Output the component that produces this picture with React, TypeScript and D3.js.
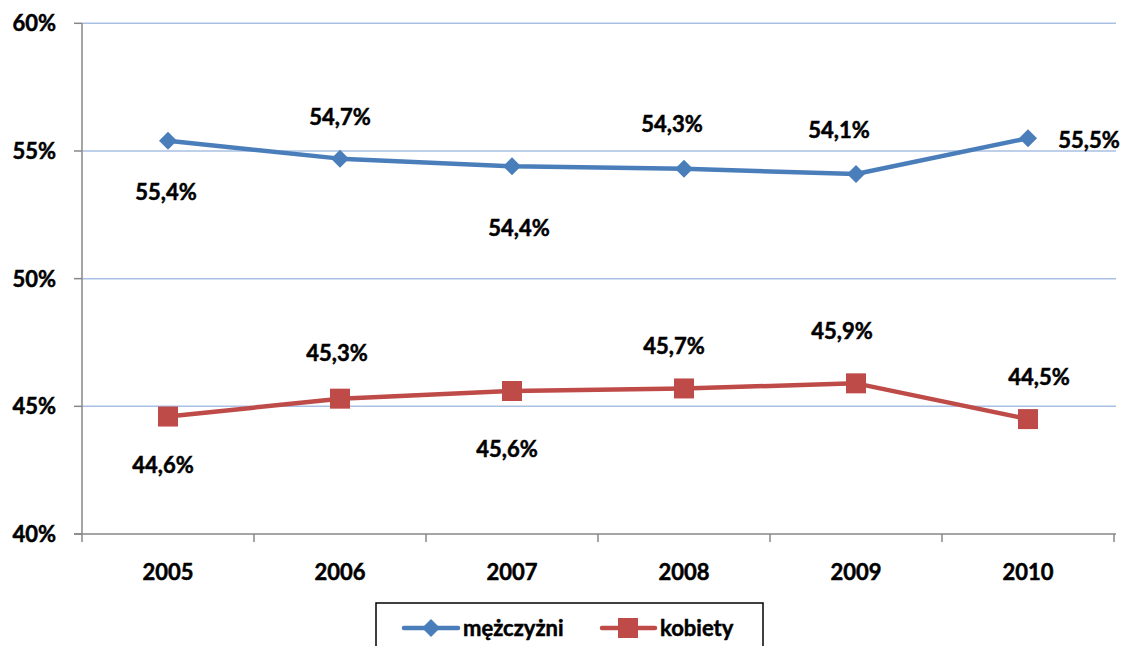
import React from "react";
import * as d3 from "d3";

const years = ["2005", "2006", "2007", "2008", "2009", "2010"];
const men = [55.4, 54.7, 54.4, 54.3, 54.1, 55.5];
const women = [44.6, 45.3, 45.6, 45.7, 45.9, 44.5];
const yTicks = [40, 45, 50, 55, 60];
const seriesNames = ["mężczyżni", "kobiety"];
// label offsets (layout only)
const menLabelOff = [[-2, 51], [0, -42], [7, 62], [-12, -45], [-17, -44], [61, 2]];
const womenLabelOff = [[-5, 49], [-3, -46], [-5, 58], [-10, -42], [-14, -52], [11, -42]];

const W = 1124, H = 646;
const left = 82, right = 1114, top = 23.3, bottom = 534;
const blue = "#4A7EBB", red = "#BE4B48";
const font = "Lato, 'Open Sans', sans-serif";
const textStyle = { fontFamily: font, fontWeight: 700, fontSize: 22, stroke: "#000", strokeWidth: 0.5 } as const;

export default function App() {
  const x = d3.scaleBand<string>().domain(years).range([left, right]);
  const y = d3.scaleLinear().domain([40, 60]).range([bottom, top]);
  const cx = (i: number) => (x(years[i]) as number) + x.bandwidth() / 2;
  const line = d3.line<number>().x((_, i) => cx(i)).y((d) => y(d));
  const fmt = (v: number) => v.toFixed(1).replace(".", ",") + "%";
  const ticksX = years.map((yr) => x(yr) as number).concat([right]);
  const diamond = (px: number, py: number, r: number) =>
    `M${px},${py - r}L${px + r},${py}L${px},${py + r}L${px - r},${py}Z`;

  return (
    <svg width={W} height={H} style={{ position: "absolute", left: 0, top: 0 }}>
      <rect width={W} height={H} fill="#fff" />
      {yTicks.filter((t) => t > 40).map((t) => (
        <line key={t} x1={left} x2={1116} y1={y(t)} y2={y(t)} stroke="#A9BFE3" strokeWidth={1.5} />
      ))}
      <line x1={left} x2={left} y1={top} y2={bottom} stroke="#878787" strokeWidth={1.5} />
      <line x1={left - 8} x2={1116} y1={bottom} y2={bottom} stroke="#878787" strokeWidth={1.5} />
      {yTicks.map((t) => (
        <g key={t}>
          <line x1={left - 8} x2={left} y1={y(t)} y2={y(t)} stroke="#878787" strokeWidth={1.5} />
          <text x={56} y={y(t)} dy="0.36em" textAnchor="end" style={textStyle}>
            {t}%
          </text>
        </g>
      ))}
      {ticksX.map((tx, i) => (
        <line key={i} x1={tx} x2={tx} y1={bottom} y2={bottom + 8} stroke="#878787" strokeWidth={1.5} />
      ))}
      {years.map((yr, i) => (
        <text key={yr} x={cx(i)} y={572} dy="0.36em" textAnchor="middle" style={textStyle}>
          {yr}
        </text>
      ))}
      <path d={line(men) || ""} fill="none" stroke={blue} strokeWidth={4.5} strokeLinejoin="round" />
      <path d={line(women) || ""} fill="none" stroke={red} strokeWidth={4.5} strokeLinejoin="round" />
      {men.map((v, i) => (
        <path key={i} d={diamond(cx(i), y(v), 9)} fill={blue} />
      ))}
      {women.map((v, i) => (
        <rect key={i} x={cx(i) - 10} y={y(v) - 10} width={20} height={20} fill={red} />
      ))}
      {men.map((v, i) => (
        <text key={i} x={cx(i) + menLabelOff[i][0]} y={y(v) + menLabelOff[i][1]} dy="0.36em" textAnchor="middle"
          style={textStyle}>{fmt(v)}</text>
      ))}
      {women.map((v, i) => (
        <text key={i} x={cx(i) + womenLabelOff[i][0]} y={y(v) + womenLabelOff[i][1]} dy="0.36em" textAnchor="middle"
          style={textStyle}>{fmt(v)}</text>
      ))}
      <rect x={376} y={603} width={387} height={60} fill="#fff" stroke="#000" strokeWidth={1.5} />
      <line x1={404} x2={458} y1={628} y2={628} stroke={blue} strokeWidth={4.5} strokeLinecap="round" />
      <path d={diamond(431, 628, 9)} fill={blue} />
      <text x={463} y={628} dy="0.36em" style={textStyle}>{seriesNames[0]}</text>
      <line x1={602} x2={655} y1={628} y2={628} stroke={red} strokeWidth={4.5} strokeLinecap="round" />
      <rect x={618} y={618} width={20} height={20} fill={red} />
      <text x={660} y={628} dy="0.36em" style={textStyle}>{seriesNames[1]}</text>
    </svg>
  );
}
